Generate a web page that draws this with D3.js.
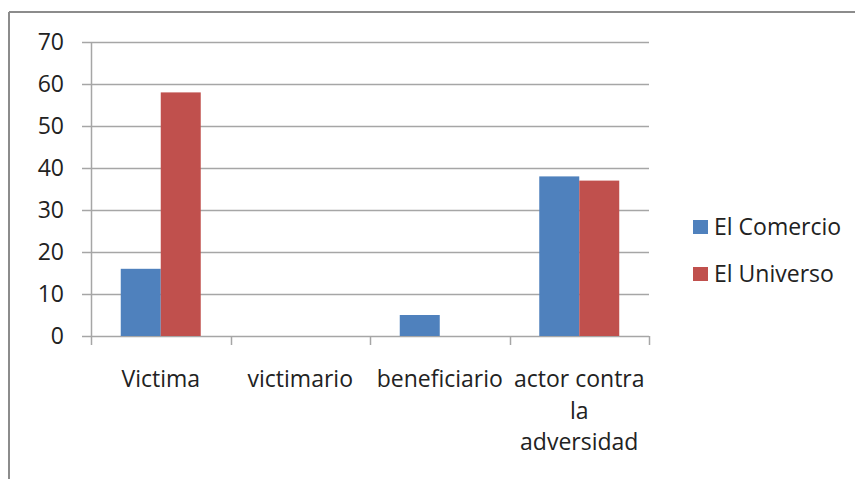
<!DOCTYPE html>
<html>
<head>
<meta charset="utf-8">
<script src="https://cdn.jsdelivr.net/npm/d3@7"></script>
<style>
  body { margin: 0; background: #fff; }
  svg { display: block; font-family: "Open Sans", Lato, sans-serif; }
  .tick-text { fill: #222; font-size: 23px; }
  .grid-line { stroke: #a6a6a6; stroke-width: 1.5; }
</style>
</head>
<body>
<div id="chart"></div>
<script>
const categories = ["Victima", "victimario", "beneficiario", "actor contra la adversidad"];
const categoryLines = [["Victima"], ["victimario"], ["beneficiario"], ["actor contra", "la", "adversidad"]];
const seriesNames = ["El Comercio", "El Universo"];
const elComercio = [16, 0, 5, 38];
const elUniverso = [58, 0, 0, 37];
const yTicks = [0, 10, 20, 30, 40, 50, 60, 70];
const colors = ["#4f81bd", "#c0504d"];

const width = 855;
const height = 479;
const margin = { top: 42, right: 206, bottom: 143, left: 91 };

const svg = d3.select("#chart").append("svg")
  .attr("width", width)
  .attr("height", height);

// outer frame (only top and left visible in the crop)
svg.append("line").attr("x1", 9).attr("x2", width).attr("y1", 12).attr("y2", 12)
  .attr("stroke", "#8c8c8c").attr("stroke-width", 2);
svg.append("line").attr("x1", 9).attr("x2", 9).attr("y1", 12).attr("y2", height)
  .attr("stroke", "#8c8c8c").attr("stroke-width", 2);

const x = d3.scaleBand()
  .domain(categories)
  .range([margin.left, width - margin.right])
  .paddingInner(0)
  .paddingOuter(0);

const xSeries = d3.scaleBand()
  .domain(seriesNames)
  .range([0, x.bandwidth()])
  .paddingInner(0)
  .paddingOuter(0.744);

const y = d3.scaleLinear()
  .domain([0, 70])
  .range([height - margin.bottom, margin.top]);

// gridlines with short tick stubs on the left
svg.append("g")
  .selectAll(".grid-line")
  .data(yTicks)
  .join("line")
  .attr("class", "grid-line")
  .attr("x1", margin.left - 9)
  .attr("x2", width - margin.right)
  .attr("y1", (d) => Math.round(y(d)) + 0.5)
  .attr("y2", (d) => Math.round(y(d)) + 0.5);

svg.append("g")
  .selectAll(".tick-text")
  .data(yTicks)
  .join("text")
  .attr("class", "tick-text")
  .attr("x", margin.left - 27)
  .attr("y", y)
  .attr("dy", "0.35em")
  .attr("text-anchor", "end")
  .text((d) => d);

// y axis line
svg.append("line")
  .attr("x1", margin.left + 0.5).attr("x2", margin.left + 0.5)
  .attr("y1", y(70)).attr("y2", y(0) + 9)
  .attr("stroke", "#a6a6a6").attr("stroke-width", 1.5);

// category ticks below the axis
svg.append("g")
  .selectAll("line")
  .data(categories)
  .join("line")
  .attr("x1", (d) => Math.round(x(d) + x.step()) + 0.5)
  .attr("x2", (d) => Math.round(x(d) + x.step()) + 0.5)
  .attr("y1", y(0))
  .attr("y2", y(0) + 9)
  .attr("stroke", "#a6a6a6")
  .attr("stroke-width", 1.5);

const rows = categories.map((c, i) => ({ category: c, values: [elComercio[i], elUniverso[i]] }));

svg.append("g")
  .selectAll("g")
  .data(rows)
  .join("g")
  .attr("transform", (d) => `translate(${x(d.category)},0)`)
  .selectAll("rect")
  .data((d) => d.values.map((v, i) => ({ name: seriesNames[i], value: v, color: colors[i] })))
  .join("rect")
  .attr("x", (d) => xSeries(d.name))
  .attr("width", xSeries.bandwidth())
  .attr("y", (d) => y(d.value))
  .attr("height", (d) => y(0) - y(d.value))
  .attr("fill", (d) => d.color);

// category labels
svg.append("g")
  .selectAll("text")
  .data(categories)
  .join("text")
  .attr("class", "tick-text")
  .attr("x", (d) => x(d) + x.bandwidth() / 2)
  .attr("y", 387)
  .attr("text-anchor", "middle")
  .each(function (d, i) {
    d3.select(this).selectAll("tspan")
      .data(categoryLines[i])
      .join("tspan")
      .attr("x", x(d) + x.bandwidth() / 2)
      .attr("dy", (t, j) => (j === 0 ? 0 : 31.5))
      .text((t) => t);
  });

// legend
const legend = svg.append("g")
  .selectAll("g")
  .data(seriesNames)
  .join("g")
  .attr("transform", (d, i) => `translate(693,${220 + i * 47})`);

legend.append("rect")
  .attr("width", 15)
  .attr("height", 14)
  .attr("fill", (d, i) => colors[i]);

legend.append("text")
  .attr("class", "tick-text")
  .attr("x", 21)
  .attr("y", 7)
  .attr("dy", "0.35em")
  .text((d) => d);
</script>
</body>
</html>
